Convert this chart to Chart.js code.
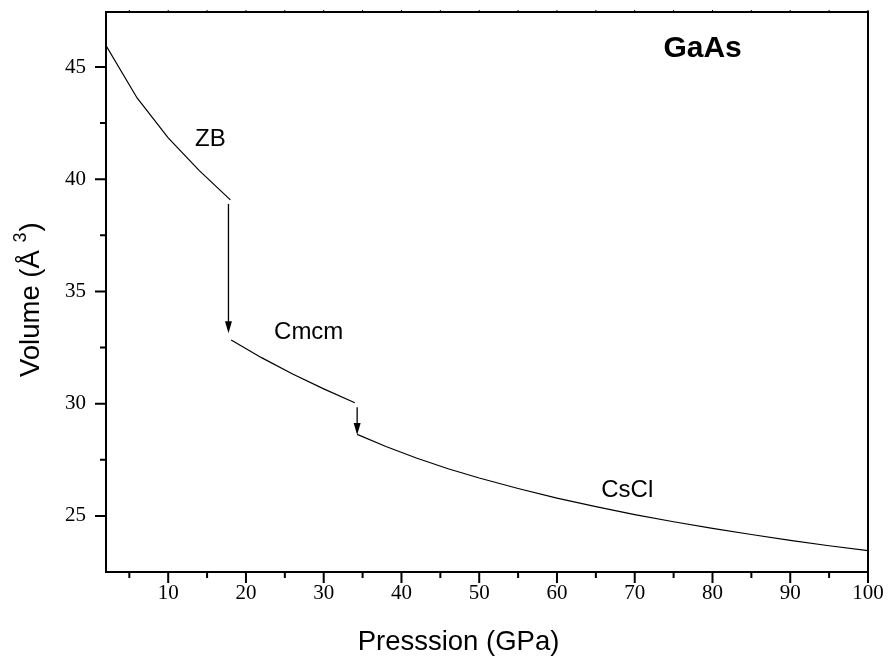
<!DOCTYPE html>
<html>
<head>
<meta charset="utf-8">
<script src="https://cdn.jsdelivr.net/npm/chart.js@4.4.0/dist/chart.umd.min.js"></script>
<style>
    html, body { margin: 0; padding: 0; background: #fff; }
    canvas { display: block; }
</style>
</head>
<body>
<canvas id="eosChart" width="891" height="658"></canvas>
<script>
// Pressure (GPa) and volume (A^3), one pair of arrays per phase
const zbPressure = [2, 6, 10, 14, 18];
const zbVolume = [45.95, 43.62, 41.84, 40.38, 39.08];
const cmcmPressure = [18.1, 22, 26, 30, 34];
const cmcmVolume = [32.84, 32.05, 31.32, 30.66, 30.04];
const csclPressure = [34.3, 38, 42, 46, 50, 55, 60, 65, 70, 75, 80, 85, 90, 95, 100];
const csclVolume = [28.63, 28.09, 27.57, 27.10, 26.69, 26.22, 25.79, 25.41, 25.06, 24.74, 24.44, 24.17, 23.91, 23.67, 23.45];

// Transition arrows: pressure, volume at the tail, volume at the tip
const arrowPressure = [17.75, 34.3];
const arrowFrom = [38.9, 29.84];
const arrowTo = [33.14, 28.6];

// Phase names and where they sit (data coords, text baseline)
const phaseLabels = ['ZB', 'Cmcm', 'CsCl'];
const phaseLabelP = [15.43, 28.07, 69.04];
const phaseLabelV = [41.5, 32.875, 25.86];

// Axis ticks
const xTicks = [10, 20, 30, 40, 50, 60, 70, 80, 90, 100];
const xMinorTicks = [5, 15, 25, 35, 45, 55, 65, 75, 85, 95];
const yTicks = [25, 30, 35, 40, 45];
const yMinorTicks = [27.5, 32.5, 37.5, 42.5];

function toPoints(xs, ys) {
    return xs.map((x, i) => ({ x: x, y: ys[i] }));
}

function phaseDataset(xs, ys) {
    return {
        data: toPoints(xs, ys),
        borderColor: '#000',
        borderWidth: 1.2,
        pointRadius: 0,
        tension: 0,
        fill: false
    };
}

// Frame, tick marks, arrows and text that Chart.js has no option for
const decorations = {
    id: 'decorations',
    afterDatasetsDraw(chart) {
        const ctx = chart.ctx;
        const xs = chart.scales.x;
        const ys = chart.scales.y;

        // arrows
        ctx.save();
        ctx.strokeStyle = '#000';
        ctx.fillStyle = '#000';
        ctx.lineWidth = 1.3;
        arrowPressure.forEach((p, i) => {
            const px = xs.getPixelForValue(p);
            const y0 = ys.getPixelForValue(arrowFrom[i]);
            const y1 = ys.getPixelForValue(arrowTo[i]);
            ctx.beginPath();
            ctx.moveTo(px, y0);
            ctx.lineTo(px, y1 - 10);
            ctx.stroke();
            ctx.beginPath();
            ctx.moveTo(px, y1);
            ctx.lineTo(px - 3.5, y1 - 12);
            ctx.lineTo(px + 3.5, y1 - 12);
            ctx.closePath();
            ctx.fill();
        });

        // phase names
        ctx.font = '24px "Liberation Sans", Arial, sans-serif';
        ctx.textAlign = 'center';
        ctx.textBaseline = 'alphabetic';
        phaseLabels.forEach((name, i) => {
            ctx.fillText(name, xs.getPixelForValue(phaseLabelP[i]), ys.getPixelForValue(phaseLabelV[i]));
        });
        ctx.font = 'bold 30px "Liberation Sans", Arial, sans-serif';
        ctx.fillText('GaAs', xs.getPixelForValue(78.73), ys.getPixelForValue(45.45));
        ctx.restore();
    },
    afterDraw(chart) {
        const ctx = chart.ctx;
        const a = chart.chartArea;
        const xs = chart.scales.x;
        const ys = chart.scales.y;
        ctx.save();
        ctx.strokeStyle = '#000';

        // frame
        ctx.lineWidth = 2;
        ctx.strokeRect(a.left, a.top, a.right - a.left, a.bottom - a.top);

        // bottom ticks
        ctx.beginPath();
        xTicks.forEach(v => {
            const px = xs.getPixelForValue(v);
            ctx.moveTo(px, a.bottom);
            ctx.lineTo(px, a.bottom + 11);
        });
        xMinorTicks.forEach(v => {
            const px = xs.getPixelForValue(v);
            ctx.moveTo(px, a.bottom);
            ctx.lineTo(px, a.bottom + 6);
        });
        // left ticks
        yTicks.forEach(v => {
            const py = ys.getPixelForValue(v);
            ctx.moveTo(a.left, py);
            ctx.lineTo(a.left - 11, py);
        });
        yMinorTicks.forEach(v => {
            const py = ys.getPixelForValue(v);
            ctx.moveTo(a.left, py);
            ctx.lineTo(a.left - 6, py);
        });
        ctx.stroke();

        // tiny marks on the top edge
        ctx.lineWidth = 1;
        ctx.beginPath();
        xTicks.concat(xMinorTicks).forEach(v => {
            const px = xs.getPixelForValue(v);
            ctx.moveTo(px, a.top);
            ctx.lineTo(px, a.top - 2);
        });
        ctx.stroke();

        // axis titles
        ctx.fillStyle = '#000';
        ctx.font = '27.5px "Liberation Sans", Arial, sans-serif';
        ctx.textAlign = 'center';
        ctx.textBaseline = 'alphabetic';
        ctx.fillText('Presssion (GPa)', 458.5, 650);

        ctx.translate(38.5, 377);
        ctx.rotate(-Math.PI / 2);
        ctx.textAlign = 'left';
        const main = 'Volume (\u00C5 ';
        ctx.fillText(main, 0, 0);
        let w = ctx.measureText(main).width;
        ctx.font = '18px "Liberation Sans", Arial, sans-serif';
        ctx.fillText('3', w, -13);
        w += ctx.measureText('3').width + 1;
        ctx.font = '27.5px "Liberation Sans", Arial, sans-serif';
        ctx.fillText(')', w, 0);
        ctx.restore();
    }
};

const tickFont = { family: '"Liberation Serif", "Times New Roman", serif', size: 21 };

new Chart(document.getElementById('eosChart'), {
    type: 'line',
    data: {
        datasets: [
            phaseDataset(zbPressure, zbVolume),
            phaseDataset(cmcmPressure, cmcmVolume),
            phaseDataset(csclPressure, csclVolume)
        ]
    },
    options: {
        responsive: false,
        animation: false,
        layout: { padding: { left: 0, right: 23, top: 12, bottom: 0 } },
        plugins: {
            legend: { display: false },
            tooltip: { enabled: false }
        },
        scales: {
            x: {
                type: 'linear',
                min: 2,
                max: 100,
                grid: { display: false, drawTicks: false },
                border: { display: false },
                ticks: { color: '#000', font: tickFont, padding: 9, maxRotation: 0 },
                afterBuildTicks: scale => { scale.ticks = xTicks.map(v => ({ value: v })); },
                afterFit: scale => {
                    scale.height = 86;
                    scale.paddingLeft = 0;
                    scale.paddingRight = 0;
                }
            },
            y: {
                type: 'linear',
                min: 22.5,
                max: 47.45,
                grid: { display: false, drawTicks: false },
                border: { display: false },
                ticks: { color: '#000', font: tickFont, padding: 20 },
                afterBuildTicks: scale => { scale.ticks = yTicks.map(v => ({ value: v })); },
                afterFit: scale => {
                    scale.width = 106;
                    scale.paddingTop = 0;
                    scale.paddingBottom = 0;
                }
            }
        }
    },
    plugins: [decorations]
});
</script>
</body>
</html>
